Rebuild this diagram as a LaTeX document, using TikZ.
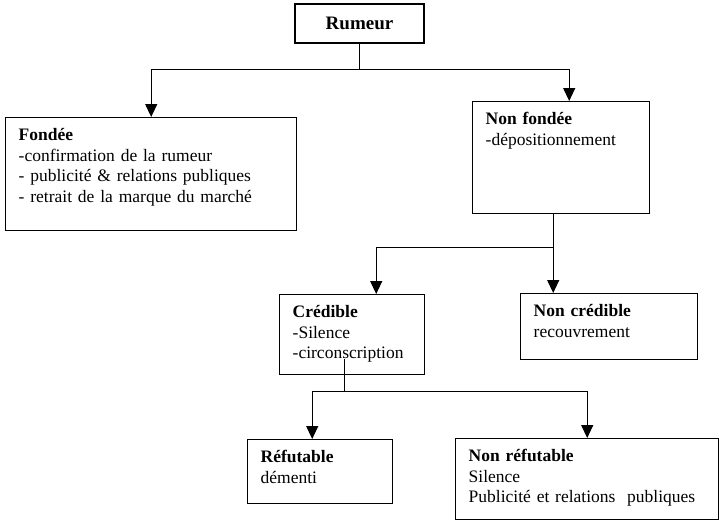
\documentclass[tikz,border=0pt]{standalone}
\usepackage{fontspec}
\setmainfont{Liberation Serif}
\usetikzlibrary{arrows.meta, positioning, calc}

\begin{document}
\begin{tikzpicture}[x=1pt, y=-1pt,
    cell/.style = {shape=rectangle, draw, line width=1.4pt,
      anchor=north west, align=left, inner xsep=13pt, inner ysep=11pt,
      text height=12pt, font=\fontsize{17.5}{20.5}\selectfont},
    line/.style = {draw, line width=1.2pt, -{Triangle[length=13pt, width=12pt]}},
    link/.style = {draw, line width=1.2pt}]
  \useasboundingbox (0,0) rectangle (719,520);

  \node[cell, anchor=center, align=center, text depth=0pt,
    font=\fontsize{19}{22}\selectfont,
    minimum width=129pt, minimum height=39pt] (rum) at (359.5,23.5) {\textbf{Rumeur}};

  \node[cell, text width=265pt, text depth=79pt] (fon) at (5,117)
    {\textbf{Fondée}\\-confirmation de la rumeur\\- publicité \& relations publiques\\- retrait de la marque du marché};
  \node[cell, text width=151pt, text depth=78pt] (nfo) at (472,101)
    {\textbf{Non fondée}\\-dépositionnement};

  \node[cell, text width=119pt, text depth=46pt] (cre) at (279,294)
    {\textbf{Crédible}\\-Silence\\-circonscription};
  \node[cell, text width=151pt, text depth=32pt] (ncr) at (520,293)
    {\textbf{Non crédible}\\recouvrement};

  \node[cell, text width=119pt, text depth=30pt] (ref) at (247,439)
    {\textbf{Réfutable}\\démenti};
  \node[cell, text width=237pt, text depth=47pt] (nre) at (455,438)
    {\textbf{Non réfutable}\\Silence\\Publicité et relations~ publiques};

  % Rumeur -> Fondee / Non fondee
  \coordinate (j1) at ($(rum.south)+(0,26)$);
  \draw[link] (rum.south) -- (j1);
  \draw[line] (j1) -| (fon.north);
  \draw[line] (j1) -| ($(nfo.north)+(8,0)$);

  % Non fondee -> Credible / Non credible
  \coordinate (j2) at ($(nfo.south)+(-8,33)$);
  \draw[link] ($(nfo.south)+(-8,0)$) -- (j2);
  \draw[line] (j2) -- (ncr.north -| j2);
  \draw[line] (j2) -| ($(cre.north)+(24,0)$);

  % Credible -> Refutable / Non refutable
  \coordinate (j3) at ($(cre.south)+(-8,16)$);
  \draw[link] ($(cre.south)+(-8,-16)$) -- (j3);
  \draw[line] (j3) -| ($(ref.north)+(-8,0)$);
  \draw[line] (j3) -| (nre.north);
\end{tikzpicture}
\end{document}
